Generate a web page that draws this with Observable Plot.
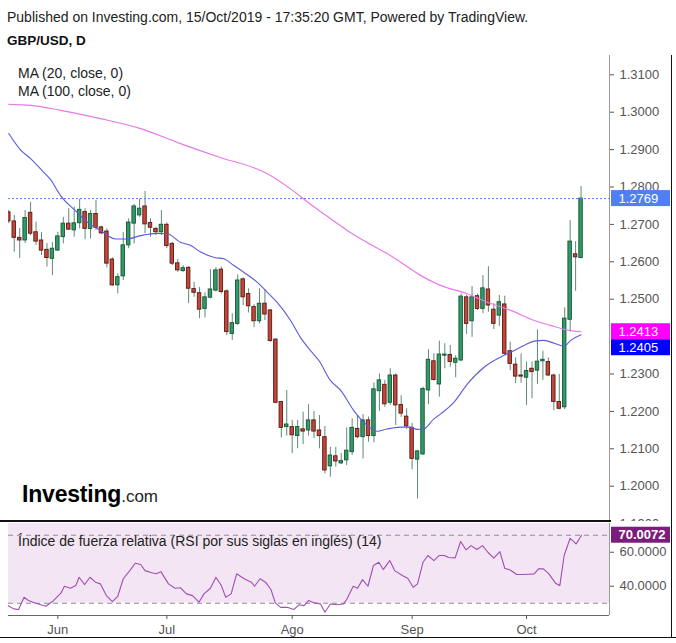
<!DOCTYPE html>
<html>
<head>
<meta charset="utf-8">
<script src="https://cdn.jsdelivr.net/npm/d3@7"></script>
<script src="https://cdn.jsdelivr.net/npm/@observablehq/plot@0.6"></script>
<style>
  body { margin: 0; background: #fff; font-family: "Liberation Sans", Arial, Helvetica, sans-serif; }
  #wrap { position: relative; width: 676px; height: 643px; overflow: hidden; background: #fff; }
  .abs { position: absolute; white-space: nowrap; line-height: 1; }
</style>
</head>
<body>
<div id="wrap">
  <div id="price" class="abs" style="left:0;top:0;width:676px;height:521px;overflow:hidden"></div>
  <div id="rsi" class="abs" style="left:0;top:521px"></div>
  <div class="abs" style="left:7px;top:10px;font-size:14px;color:#222">Published on Investing.com, 15/Oct/2019 - 17:35:20 GMT, Powered by TradingView.</div>
  <div class="abs" style="left:7px;top:34px;font-size:13.5px;font-weight:bold;color:#111">GBP/USD, D</div>
  <div class="abs" style="left:18px;top:66px;font-size:14px;color:#222">MA (20, close, 0)</div>
  <div class="abs" style="left:18px;top:84px;font-size:14px;color:#222">MA (100, close, 0)</div>
  <div class="abs" style="left:22px;top:483px;color:#000"><span style="font-size:23px;font-weight:bold;letter-spacing:-0.2px">Investing</span><span style="font-size:17px;color:#222">.com</span></div>
  <div class="abs" style="left:18px;top:534px;font-size:14px;color:#222">Índice de fuerza relativa (RSI por sus siglas en inglés) (14)</div>
  <div class="abs" style="left:0;top:520px;width:611px;height:2px;background:#111"></div>
  <div class="abs" style="left:671px;top:55px;width:1px;height:583px;background:#111"></div>
  <div class="abs" style="left:0;top:637px;width:676px;height:1px;background:#111"></div>
</div>
<script>
// ---- Daily candles (bar 1 = 21 May 2019 ... bar 106 = 15 Oct 2019) ----
const opens  = [1.2732,1.2708,1.2664,1.2657,1.2731,1.2679,1.2657,1.2632,1.2608,1.2630,
                1.2666,1.2702,1.2684,1.2703,1.2733,1.2688,1.2728,1.2692,1.2681,1.2606,
                1.2537,1.2561,1.2644,1.2702,1.2724,1.2748,1.2704,1.2688,1.2679,1.2699,
                1.2648,1.2596,1.2575,1.2584,1.2527,1.2516,1.2474,1.2504,1.2523,1.2579,
                1.2521,1.2407,1.2434,1.2553,1.2514,1.2479,1.2441,1.2488,1.2470,1.2392,
                1.2225,1.2158,1.2158,1.2134,1.2152,1.2149,1.2176,1.2149,1.2131,1.2053,
                1.2080,1.2061,1.2069,1.2091,1.2153,1.2131,1.2176,1.2134,1.2254,1.2271,
                1.2223,1.2296,1.2217,1.2186,1.2156,1.2071,1.2085,1.2256,1.2334,1.2272,
                1.2349,1.2351,1.2330,1.2336,1.2505,1.2441,1.2508,1.2474,1.2526,1.2472,
                1.2456,1.2486,1.2361,1.2325,1.2296,1.2290,1.2314,1.2309,1.2334,1.2332,
                1.2296,1.2225,1.2211,1.2445,1.2620,1.2610];
const highs  = [1.2737,1.2724,1.2689,1.2737,1.2759,1.2706,1.2678,1.2649,1.2652,1.2679,
                1.2719,1.2742,1.2746,1.2767,1.2742,1.2737,1.2764,1.2695,1.2688,1.2611,
                1.2568,1.2678,1.2715,1.2753,1.2768,1.2788,1.2715,1.2692,1.2737,1.2704,
                1.2652,1.2606,1.2590,1.2587,1.2545,1.2531,1.2517,1.2579,1.2584,1.2586,
                1.2525,1.2461,1.2565,1.2557,1.2528,1.2485,1.2528,1.2525,1.2472,1.2394,
                1.2227,1.2256,1.2176,1.2176,1.2198,1.2218,1.2200,1.2189,1.2160,1.2104,
                1.2104,1.2087,1.2156,1.2180,1.2189,1.2192,1.2185,1.2276,1.2300,1.2283,
                1.2314,1.2300,1.2242,1.2207,1.2168,1.2096,1.2265,1.2365,1.2354,1.2388,
                1.2381,1.2376,1.2349,1.2514,1.2510,1.2534,1.2514,1.2563,1.2587,1.2488,
                1.2510,1.2508,1.2385,1.2343,1.2354,1.2332,1.2332,1.2418,1.2361,1.2343,
                1.2300,1.2299,1.2477,1.2710,1.2654,1.2801];
const lows   = [1.2702,1.2626,1.2609,1.2649,1.2670,1.2644,1.2617,1.2586,1.2563,1.2628,
                1.2648,1.2684,1.2666,1.2688,1.2659,1.2661,1.2684,1.2673,1.2584,1.2534,
                1.2514,1.2550,1.2635,1.2648,1.2719,1.2675,1.2666,1.2670,1.2670,1.2635,
                1.2590,1.2572,1.2572,1.2488,1.2505,1.2448,1.2450,1.2501,1.2519,1.2514,
                1.2403,1.2390,1.2430,1.2483,1.2463,1.2424,1.2434,1.2443,1.2385,1.2220,
                1.2129,1.2134,1.2087,1.2100,1.2111,1.2134,1.2127,1.2100,1.2033,1.2024,
                1.2051,1.2058,1.2055,1.2082,1.2127,1.2073,1.2118,1.2116,1.2200,1.2211,
                1.2216,1.2162,1.2184,1.2152,1.2044,1.1966,1.2082,1.2218,1.2281,1.2238,
                1.2314,1.2318,1.2290,1.2334,1.2406,1.2398,1.2470,1.2461,1.2465,1.2419,
                1.2427,1.2349,1.2309,1.2274,1.2275,1.2216,1.2234,1.2272,1.2283,1.2293,
                1.2202,1.2204,1.2205,1.2412,1.2521,1.2608];
const closes = [1.2708,1.2664,1.2657,1.2717,1.2675,1.2654,1.2630,1.2610,1.2635,1.2668,
                1.2702,1.2686,1.2703,1.2739,1.2688,1.2728,1.2691,1.2676,1.2595,1.2537,
                1.2559,1.2644,1.2705,1.2748,1.2742,1.2700,1.2691,1.2679,1.2699,1.2642,
                1.2595,1.2577,1.2583,1.2528,1.2517,1.2472,1.2505,1.2526,1.2577,1.2519,
                1.2412,1.2436,1.2550,1.2505,1.2481,1.2441,1.2488,1.2459,1.2388,1.2223,
                1.2156,1.2165,1.2136,1.2158,1.2146,1.2176,1.2146,1.2134,1.2042,1.2082,
                1.2066,1.2067,1.2095,1.2156,1.2131,1.2176,1.2134,1.2259,1.2283,1.2219,
                1.2296,1.2216,1.2194,1.2160,1.2073,1.2093,1.2260,1.2338,1.2284,1.2352,
                1.2352,1.2332,1.2341,1.2507,1.2434,1.2505,1.2474,1.2529,1.2483,1.2434,
                1.2492,1.2354,1.2327,1.2293,1.2293,1.2308,1.2305,1.2333,1.2338,1.2296,
                1.2225,1.2207,1.2448,1.2654,1.2612,1.2769];

// ---- Moving averages (bar position, value) ----
const ma20Idx = [1,3.1,5,7.1,8.7,10.5,13.5,15.4,17.8,20.6,22.7,25.2,28.2,30.1,32.5,34.3,36.2,38.9,40.4,42.3,
                 44.1,46.6,48.4,50.2,52.7,54.5,56.4,57.9,60.0,61.9,64.3,66.8,68.6,70.4,72.9,74.7,75.9,77.1,79.0,80.3,
                 82.7,85.2,88.2,91.2,93.1,95.5,97.4,99.2,101.1,102.9,104.1,106];
const ma20Val = [1.2943,1.2900,1.2876,1.2844,1.2819,1.2777,1.2733,1.2706,1.2684,1.2661,1.2661,1.2670,1.2676,1.2675,1.2652,1.2644,1.2626,1.2611,1.2608,1.2590,
                 1.2572,1.2545,1.2519,1.2492,1.2443,1.2398,1.2362,1.2336,1.2283,1.2256,1.2202,1.2162,1.2147,1.2153,1.2158,1.2158,1.2152,1.2153,1.2180,1.2194,
                 1.2225,1.2274,1.2318,1.2345,1.2358,1.2376,1.2388,1.2390,1.2382,1.2374,1.2390,1.2405];
const ma100Idx = [1,5,10.5,17.8,25.2,32.5,39.8,47.2,49,52.7,55.1,58.8,63.1,66.1,71,72.9,76.6,80.2,85.2,88.8,93.1,97.4,100.4,103.4,106];
const ma100Val = [1.3021,1.3018,1.3005,1.2983,1.2956,1.2916,1.2879,1.2844,1.2831,1.2795,1.2768,1.2728,1.2684,1.2657,1.2617,1.2599,1.2563,1.2537,1.2514,1.2492,1.2470,1.2443,1.2430,1.2418,1.2413];

// ---- RSI (14) ----
const rsiIdx = [0.9,1.9,2.8,3.8,4.6,5.8,7.8,9.0,10.6,11.2,12.3,13.3,13.9,14.9,15.9,16.9,17.8,18.9,20.0,21.0,
                22.0,23.2,24.2,25.2,26.0,27.2,28.1,28.9,30.3,31.5,32.5,33.6,34.7,35.9,36.8,38.0,39.0,40.0,40.8,41.8,
                42.8,44.2,45.5,46.1,47.1,48.1,49.1,49.9,50.9,52.1,53.3,54.2,55.2,56.0,57.1,58.2,59.0,60.0,61.2,62.4,
                63.0,64.2,65.0,65.9,66.9,67.9,68.9,69.7,70.9,71.8,73.2,74.2,75.2,76.0,77.0,77.9,79.0,80.0,80.9,81.7,
                82.9,83.9,84.9,85.8,86.9,87.9,88.9,90.0,91.1,92.0,93.0,94.2,95.2,96.4,97.4,98.2,99.1,100.1,101.3,102.1,
                102.9,104.0,105.1,106.1];
const rsiVal = [28.6,26.7,26.3,33.5,31.6,30.2,28.2,31.0,36.1,40.0,38.8,40.4,45.3,41.0,45.3,42.4,41.4,34.5,31.0,34.1,
                44.4,49.2,53.5,52.8,49.2,47.9,47.3,48.6,41.4,38.8,39.1,35.5,34.5,30.6,35.5,38.8,45.3,40.4,33.5,35.5,
                47.3,44.4,42.4,40.0,44.4,42.4,38.1,30.2,27.6,27.6,26.3,29.1,28.6,31.6,30.2,29.6,24.7,29.6,29.1,29.6,
                32.2,40.0,38.8,43.9,40.0,52.2,54.1,49.8,55.1,49.2,46.3,44.7,39.4,41.4,54.1,58.1,55.1,58.1,58.1,56.9,
                56.7,66.3,61.4,63.9,61.6,63.9,60.0,56.5,60.4,50.6,49.6,46.9,46.9,47.1,47.3,50.2,50.2,47.3,41.8,40.4,
                58.1,68.2,64.9,70.0072];

// ---- Axis ticks and labels (1.2400 is hidden behind the MA value tags) ----
const priceTicks = [1.19,1.20,1.21,1.22,1.23,1.25,1.26,1.27,1.28,1.29,1.30,1.31];
const rsiTicks = [40, 60];
const rsiBands = [30, 70];
const monthTickIdx = [10, 30, 53, 75, 96];
const monthLabels = ["Jun", "Jul", "Ago", "Sep", "Oct"];

// ---- build ----
const FONT = '"Liberation Sans", Arial, Helvetica, sans-serif';
const fmt4 = d3.format(".4f");
const xDom = [0.945, 111.22];
const priceDom = [1.19056, 1.31516];
const rsiDom = [22.8, 76.9];

const candles = opens.map((o, i) => ({k: i + 1, o, h: highs[i], l: lows[i], c: closes[i]}));
const ma20 = ma20Idx.map((k, i) => ({k, v: ma20Val[i]}));
const ma100 = ma100Idx.map((k, i) => ({k, v: ma100Val[i]}));
const rsi = rsiIdx.map((k, i) => ({k, v: rsiVal[i]}));
const monthLabelOf = new Map(monthTickIdx.map((k, i) => [k, monthLabels[i]]));

const upFill = "#2f9b65", upStroke = "#17553a", dnFill = "#c3463b", dnStroke = "#5a1a14", wick = "#5e8a73";

function tag(value, color, dy, bold) {
  return [
    Plot.rect([value], {x1: () => xDom[1], x2: () => xDom[1], y1: d => d, y2: d => d,
      insetLeft: 2, insetRight: -61, insetTop: -8, insetBottom: -8, dy, fill: color}),
    Plot.text([value], {x: () => xDom[1], y: d => d, text: d => fmt4(d), dx: 9, dy,
      textAnchor: "start", fill: "white", fontSize: 13, fontWeight: bold ? "bold" : "normal"})
  ];
}

const lastClose = closes[closes.length - 1];
const ma20Last = ma20Val[ma20Val.length - 1];
const ma100Last = ma100Val[ma100Val.length - 1];
const rsiLast = rsiVal[rsiVal.length - 1];

const pricePlot = Plot.plot({
  width: 676, height: 535,
  marginLeft: 8, marginRight: 67, marginTop: 55, marginBottom: 14,
  x: {domain: xDom, axis: null},
  y: {domain: priceDom, axis: null},
  style: {fontFamily: FONT, fontSize: "13px", color: "#555", background: "transparent", overflow: "visible"},
  marks: [
    Plot.ruleX([xDom[1]], {stroke: "#9a9a9a"}),
    Plot.ruleX(candles, {x: "k", y1: "l", y2: "h", stroke: wick, strokeWidth: 1, clip: true}),
    Plot.rect(candles, {
      x1: d => d.k - 0.32, x2: d => d.k + 0.32, y1: "o", y2: "c",
      fill: d => d.c >= d.o ? upFill : dnFill,
      stroke: d => d.c >= d.o ? upStroke : dnStroke,
      strokeWidth: 0.9, clip: true
    }),
    Plot.line(ma100, {x: "k", y: "v", stroke: "#e77be7", strokeWidth: 1.2, curve: "monotone-x", clip: true}),
    Plot.line(ma20, {x: "k", y: "v", stroke: "#5b5bd9", strokeWidth: 1.1, curve: "monotone-x", clip: true}),
    Plot.ruleY([lastClose], {stroke: "#4f7ff0", strokeDasharray: "2,2", strokeWidth: 1}),
    Plot.axisY({ticks: priceTicks, anchor: "right", label: null, tickFormat: fmt4, tickSize: 4, tickPadding: 6, fontSize: 13}),
    ...tag(lastClose, "#4f7ff0", 0, false),
    ...tag(ma100Last, "#ff00ff", 0, false),
    ...tag(ma20Last, "#0000ff", 13, false)
  ]
});
document.getElementById("price").appendChild(pricePlot);

const rsiPlot = Plot.plot({
  width: 676, height: 122,
  marginLeft: 8, marginRight: 67, marginTop: 2, marginBottom: 28,
  x: {domain: xDom, axis: null},
  y: {domain: rsiDom, axis: null},
  style: {fontFamily: FONT, fontSize: "13px", color: "#555", background: "#fff", overflow: "visible"},
  marks: [
    Plot.rect([rsiBands], {x1: () => xDom[0], x2: () => xDom[1], y1: d => d[0], y2: () => rsiDom[1], fill: "#f3e5f3"}),
    Plot.ruleY(rsiBands, {stroke: "#8c8c8c", strokeDasharray: "5,4"}),
    Plot.line(rsi, {x: "k", y: "v", stroke: "#a04fb4", strokeWidth: 1.1, clip: true}),
    Plot.ruleX([xDom[1]], {stroke: "#9a9a9a"}),
    Plot.ruleY([rsiDom[0]], {stroke: "#666"}),
    Plot.axisY({ticks: rsiTicks, anchor: "right", label: null, tickFormat: fmt4, tickSize: 4, tickPadding: 6, fontSize: 13}),
    Plot.axisX({ticks: monthTickIdx, anchor: "bottom", label: null, tickFormat: d => monthLabelOf.get(d), tickSize: 4, tickPadding: 5, fontSize: 13}),
    ...tag(rsiLast, "#7b1e7b", 0, true)
  ]
});
document.getElementById("rsi").appendChild(rsiPlot);
</script>
</body>
</html>
